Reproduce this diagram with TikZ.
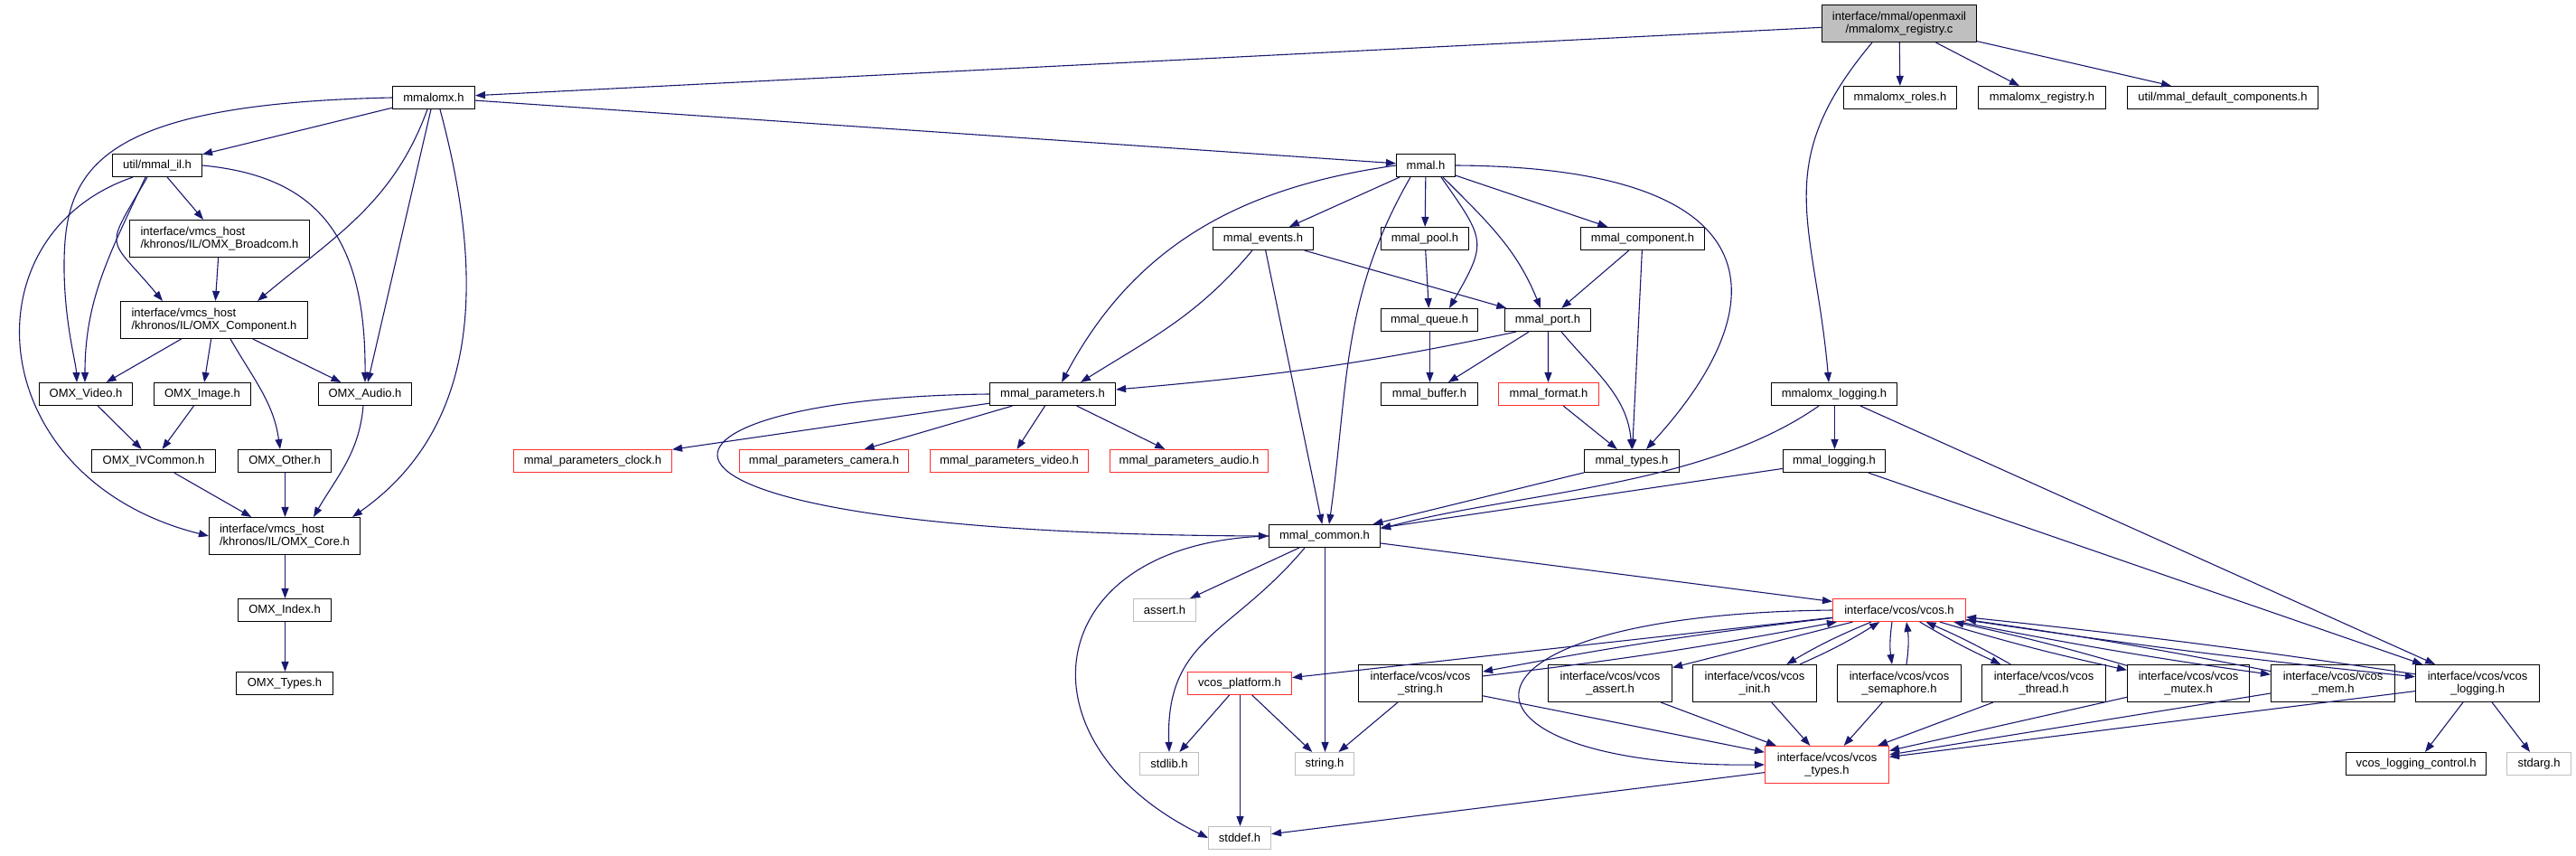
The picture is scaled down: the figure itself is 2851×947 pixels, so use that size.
\documentclass[tikz,border=0pt]{standalone}
\usepackage{fontspec}
\setmainfont{Liberation Sans}
\usetikzlibrary{arrows.meta}
\definecolor{edgec}{HTML}{191970}
\definecolor{greyl}{HTML}{BFBFBF}
\definecolor{nred}{HTML}{FF3030}
\newcommand\nodefont{\fontsize{13bp}{14.5bp}\selectfont}
\tikzset{
 nb/.style={draw=black, line width=1.1bp, fill=white, inner sep=0pt, minimum height=25bp, font=\nodefont},
 nr/.style={nb, draw=nred},
 ng/.style={nb, draw=greyl},
 two/.style={minimum height=41bp, align=center},
 twol/.style={minimum height=41bp, align=left},
 e/.style={draw=edgec, line width=1.1bp, -{Triangle[length=11bp,width=8bp]}},
}
\begin{document}
\begin{tikzpicture}[x=1bp,y=1bp]
\useasboundingbox (0,0) rectangle (2851,-947);
% row 0
\node[nb, two, fill=greyl, minimum width=171bp] (root) at (2102,-26) {interface/mmal/openmaxil\\/mmalomx\_registry.c};
% row 1
\node[nb, minimum width=91bp] (mmalomx) at (480,-108) {mmalomx.h};
\node[nb, minimum width=125bp] (roles) at (2103,-108) {mmalomx\_roles.h};
\node[nb, minimum width=141bp] (registry) at (2260,-108) {mmalomx\_registry.h};
\node[nb, minimum width=211bp] (defcomp) at (2460,-108) {util/mmal\_default\_components.h};
% row 2
\node[nb, minimum width=99bp] (mmalil) at (174,-183) {util/mmal\_il.h};
\node[nb, minimum width=65bp] (mmal) at (1578,-183) {mmal.h};
% row 3
\node[nb, twol, minimum width=199bp] (broadcom) at (243,-264) {interface/vmcs\_host\\/khronos/IL/OMX\_Broadcom.h};
\node[nb, minimum width=111bp] (events) at (1398,-264) {mmal\_events.h};
\node[nb, minimum width=97bp] (pool) at (1577,-264) {mmal\_pool.h};
\node[nb, minimum width=137bp] (mcomp) at (1818,-264) {mmal\_component.h};
% row 4
\node[nb, twol, minimum width=207bp] (omxcomp) at (237,-354) {interface/vmcs\_host\\/khronos/IL/OMX\_Component.h};
\node[nb, minimum width=107bp] (queue) at (1582,-354) {mmal\_queue.h};
\node[nb, minimum width=95bp] (port) at (1713,-354) {mmal\_port.h};
% row 5
\node[nb, minimum width=103bp] (video) at (95,-436) {OMX\_Video.h};
\node[nb, minimum width=107bp] (image) at (224,-436) {OMX\_Image.h};
\node[nb, minimum width=103bp] (audio) at (404,-436) {OMX\_Audio.h};
\node[nb, minimum width=139bp] (params) at (1165,-436) {mmal\_parameters.h};
\node[nb, minimum width=107bp] (buffer) at (1582,-436) {mmal\_buffer.h};
\node[nr, minimum width=111bp] (format) at (1714,-436) {mmal\_format.h};
\node[nb, minimum width=139bp] (mxlog) at (2030,-436) {mmalomx\_logging.h};
% row 6
\node[nb, minimum width=137bp] (ivcommon) at (170,-510) {OMX\_IVCommon.h};
\node[nb, minimum width=103bp] (other) at (315,-510) {OMX\_Other.h};
\node[nr, minimum width=175bp] (pclock) at (656,-510) {mmal\_parameters\_clock.h};
\node[nr, minimum width=187bp] (pcamera) at (912,-510) {mmal\_parameters\_camera.h};
\node[nr, minimum width=175bp] (pvideo) at (1117,-510) {mmal\_parameters\_video.h};
\node[nr, minimum width=175bp] (paudio) at (1316,-510) {mmal\_parameters\_audio.h};
\node[nb, minimum width=105bp] (types) at (1806,-510) {mmal\_types.h};
\node[nb, minimum width=113bp] (mlog) at (2030,-510) {mmal\_logging.h};
% row 7
\node[nb, twol, minimum width=167bp] (core) at (315,-593) {interface/vmcs\_host\\/khronos/IL/OMX\_Core.h};
\node[nb, minimum width=123bp] (common) at (1466,-593) {mmal\_common.h};
% row 8
\node[nb, minimum width=103bp] (index) at (315,-675) {OMX\_Index.h};
\node[ng, minimum width=69bp] (assert) at (1289,-675) {assert.h};
\node[nr, minimum width=147bp] (vcos) at (2102,-675) {interface/vcos/vcos.h};
% row 9
\node[nb, minimum width=107bp] (omxtypes) at (315,-756) {OMX\_Types.h};
\node[nr, minimum width=115bp] (platform) at (1372,-756) {vcos\_platform.h};
\node[nb, two, minimum width=137bp] (vstring) at (1572,-756) {interface/vcos/vcos\\\_string.h};
\node[nb, two, minimum width=137bp] (vassert) at (1782,-756) {interface/vcos/vcos\\\_assert.h};
\node[nb, two, minimum width=137bp] (vinit) at (1942,-756) {interface/vcos/vcos\\\_init.h};
\node[nb, two, minimum width=137bp] (vsem) at (2102,-756) {interface/vcos/vcos\\\_semaphore.h};
\node[nb, two, minimum width=137bp] (vthread) at (2262,-756) {interface/vcos/vcos\\\_thread.h};
\node[nb, two, minimum width=135bp] (vmutex) at (2422,-756) {interface/vcos/vcos\\\_mutex.h};
\node[nb, two, minimum width=137bp] (vmem) at (2582,-756) {interface/vcos/vcos\\\_mem.h};
\node[nb, two, minimum width=137bp] (vlog) at (2742,-756) {interface/vcos/vcos\\\_logging.h};
% row 10
\node[ng, minimum width=65bp] (stdlib) at (1294,-845) {stdlib.h};
\node[ng, minimum width=65bp] (string) at (1466,-845) {string.h};
\node[nr, two, minimum width=137bp] (vtypes) at (2022,-846) {interface/vcos/vcos\\\_types.h};
\node[nb, minimum width=155bp] (logctl) at (2674,-845) {vcos\_logging\_control.h};
\node[ng, minimum width=71bp] (stdarg) at (2810,-845) {stdarg.h};
% row 11
\node[ng, minimum width=69bp] (stddef) at (1372,-927) {stddef.h};

% ---- edges: root
\draw[e] (root) -- (mmalomx);
\draw[e] (root) -- (roles);
\draw[e] (root) -- (registry);
\draw[e] (root) -- (defcomp);
\draw[e] ([xshift=-30bp]root.south) to[out=-130,in=95,looseness=1.2] ([xshift=-6bp]mxlog.north);
% mmalomx
\draw[e] (mmalomx) -- (mmalil);
\draw[e] (mmalomx.west) .. controls (100,-115) and (70,-190) .. (71,-300) .. controls (72,-360) and (84,-400) .. ([xshift=-10bp]video.north);
\draw[e] ([xshift=-7bp]mmalomx.south) to[out=-110,in=40] ([xshift=48bp]omxcomp.north);
\draw[e] (mmalomx) -- (audio);
\draw[e] ([xshift=7bp]mmalomx.south) to[out=-75,in=35] ([xshift=75bp]core.north);
\draw[e] (mmalomx) -- (mmal);
% mmal_il
\draw[e] (mmalil) -- (broadcom);
\draw[e] (mmalil.east) .. controls (350,-195) and (405,-260) .. (audio.north);
\draw[e] ([xshift=-13bp]mmalil.south) to[out=-115,in=90] ([xshift=-1bp]video.north);
\draw[e] ([xshift=-11bp]mmalil.south) to[out=-120,in=130,looseness=1.8] ([xshift=-57bp]omxcomp.north);
\draw[e] ([xshift=-27bp]mmalil.south) .. controls (-40,-260) and (-20,-530) .. (core.west);
\draw[e] (broadcom) -- (omxcomp);
\draw[e] (omxcomp) -- (video);
\draw[e] (omxcomp) -- (image);
\draw[e] (omxcomp) -- (audio);
\draw[e] ([xshift=18bp]omxcomp.south) to[out=-60,in=98] ([xshift=-5bp]other.north);
\draw[e] (video) -- (ivcommon);
\draw[e] (image) -- (ivcommon);
\draw[e] ([xshift=-2bp]audio.south) to[out=-95,in=60] ([xshift=32bp]core.north);
\draw[e] (ivcommon) -- (core);
\draw[e] ([xshift=.5bp]other.south) -- ([xshift=.5bp]core.north);
\draw[e] ([xshift=.5bp]core.south) -- ([xshift=.5bp]index.north);
\draw[e] ([xshift=.5bp]index.south) -- ([xshift=.5bp]omxtypes.north);
% mmal
\draw[e] (mmal) -- (events);
\draw[e] (mmal) -- (pool);
\draw[e] ([xshift=17bp]mmal.south) to[out=-55,in=60,looseness=1.5] ([xshift=22bp]queue.north);
\draw[e] ([xshift=19bp]mmal.south) to[out=-45,in=112] ([xshift=-8bp]port.north);
\draw[e] (mmal) -- (mcomp);
\draw[e] (mmal.east) .. controls (1960,-185) and (1975,-330) .. ([xshift=16bp]types.north);
\draw[e] (mmal.west) to[out=188,in=62] ([xshift=10bp]params.north);
\draw[e] ([xshift=-17bp]mmal.south) to[out=-120,in=82] ([xshift=5bp]common.north);
% events
\draw[e] ([xshift=-12bp]events.south) to[out=-130,in=32] ([xshift=31bp]params.north);
\draw[e] (events) -- (port);
\draw[e] (events) -- (common);
\draw[e] (pool) -- (queue);
\draw[e] (mcomp) -- (port);
\draw[e] (mcomp) -- (types);
\draw[e] ([xshift=.5bp]queue.south) -- ([xshift=.5bp]buffer.north);
\draw[e] ([xshift=-35bp]port.south) to[out=192,in=5] ([yshift=5bp]params.east);
\draw[e] (port) -- (buffer);
\draw[e] ([xshift=.5bp]port.south) -- ([xshift=-.5bp]format.north);
\draw[e] ([xshift=15bp]port.south) to[out=-50,in=95] (types.north);
\draw[e] (format) -- (types);
% parameters
\draw[e] (params) -- (pclock);
\draw[e] (params) -- (pcamera);
\draw[e] (params) -- (pvideo);
\draw[e] (params) -- (paudio);
\draw[e] (params.west) .. controls (680,-440) and (620,-590) .. (common.west);
\draw[e] (types) -- (common);
% logging
\draw[e] ([xshift=.5bp]mxlog.south) -- ([xshift=.5bp]mlog.north);
\draw[e] ([xshift=-17bp]mxlog.south) to[out=-145,in=15,looseness=0.8] ([yshift=8bp]common.east);
\draw[e] (mxlog) -- (vlog);
\draw[e] (mlog) -- (common);
\draw[e] (mlog) -- (vlog);
% common
\draw[e] (common) -- (assert);
\draw[e] ([xshift=-22bp]common.south) to[out=-130,in=92,looseness=1.2] (stdlib.north);
\draw[e] (common.west) .. controls (1150,-600) and (1120,-820) .. (stddef.west);
\draw[e] ([xshift=.5bp]common.south) -- ([xshift=.5bp]string.north);
\draw[e] (common) -- (vcos);
% vcos
\draw[e] (vcos) -- (platform);
\draw[e] (vcos) to[bend right=2] (vstring);
\draw[e] (vstring) to[bend right=2] (vcos);
\draw[e] (vcos.west) .. controls (1570,-680) and (1590,-850) .. (vtypes.west);
\draw[e] (vcos) -- (vassert);
\draw[e] (vcos) to[bend right=4] (vinit);
\draw[e] (vinit) to[bend right=4] (vcos);
\draw[e] ([xshift=-8bp]vcos.south) to[bend right=8] ([xshift=-8bp]vsem.north);
\draw[e] ([xshift=8bp]vsem.north) to[bend right=8] ([xshift=8bp]vcos.south);
\draw[e] (vcos) to[bend right=3] (vthread);
\draw[e] (vthread) to[bend right=3] (vcos);
\draw[e] (vcos) to[bend right=2] (vmutex);
\draw[e] (vmutex) to[bend right=2] (vcos);
\draw[e] (vcos) to[bend right=1.5] (vmem);
\draw[e] (vmem) to[bend right=1.5] (vcos);
\draw[e] (vcos) to[bend right=1.2] (vlog);
\draw[e] (vlog) to[bend right=1.2] (vcos);
% to vcos_types
\draw[e] (vstring) -- (vtypes);
\draw[e] (vassert) -- (vtypes);
\draw[e] (vinit) -- (vtypes);
\draw[e] (vsem) -- (vtypes);
\draw[e] (vthread) -- (vtypes);
\draw[e] (vmutex) -- (vtypes);
\draw[e] (vmem) -- (vtypes);
\draw[e] (vlog) -- (vtypes);
% system headers
\draw[e] (vstring) -- (string);
\draw[e] (platform) -- (stdlib);
\draw[e] (platform) -- (string);
\draw[e] ([xshift=.5bp]platform.south) -- ([xshift=.5bp]stddef.north);
\draw[e] (vtypes) -- (stddef);
\draw[e] (vlog) -- (logctl);
\draw[e] (vlog) -- (stdarg);
\end{tikzpicture}
\end{document}
